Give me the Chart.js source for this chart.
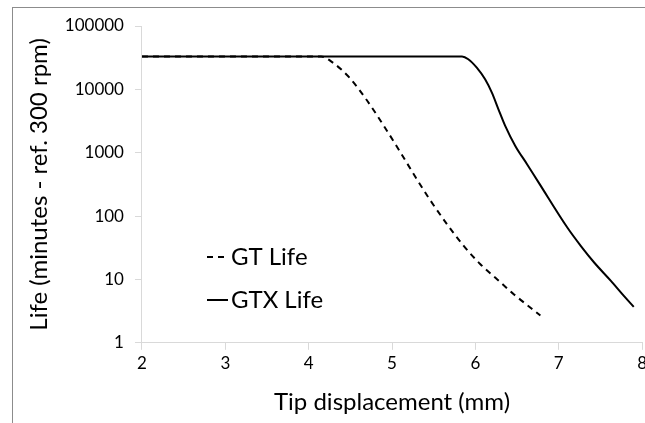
<!DOCTYPE html>
<html>
<head>
<meta charset="utf-8">
<script src="https://cdn.jsdelivr.net/npm/chart.js@4"></script>
<style>
  html, body { margin: 0; padding: 0; background: #fff; overflow: hidden; }
  #wrap { position: relative; width: 651px; height: 423px; }
  #frame { position: absolute; left: 12px; top: 7px; width: 700px; height: 500px;
           border-left: 1px solid #8c8c8c; border-top: 1px solid #8c8c8c; }
  canvas { position: absolute; left: 0; top: 0; }
</style>
</head>
<body>
<div id="wrap">
  <div id="frame"></div>
  <canvas id="chart" width="651" height="423"></canvas>
</div>
<script>
// 데이터
const gtX  = [2, 4.15, 4.29, 4.49, 4.69, 4.89, 5.09, 5.27, 5.45, 5.66, 5.86, 6.06, 6.26, 6.46, 6.78];
const gtY  = [33000, 33000, 26400, 15300, 6980, 2810, 1070, 437, 185, 74.5, 33.9, 17.4, 10.1, 5.86, 2.7];
const gtxX = [2, 5.84, 5.915, 6.017, 6.117, 6.198, 6.277, 6.358, 6.479, 6.62, 6.76, 7.103, 7.264, 7.425, 7.626, 7.787, 7.9];
const gtxY = [33000, 33000, 29900, 22000, 14400, 8870, 4850, 2650, 1280, 659, 337, 65.9, 33.9, 18.5, 9.5, 5.4, 3.7];
const seriesNames = ['GT Life', 'GTX Life'];
const yTicks = [1, 10, 100, 1000, 10000, 100000];
const xTicks = [2, 3, 4, 5, 6, 7, 8];

const FONT = 'Lato, "Open Sans", sans-serif';
const AXIS_GRAY = '#d9d9d9';

function toPoints(xs, ys) {
    return xs.map((x, i) => ({ x: x, y: ys[i] }));
}

// 차트 안쪽 범례
const innerLegend = {
    id: 'innerLegend',
    afterDraw(chart) {
        const ctx = chart.ctx;
        const rows = [
            { y: 257, ds: chart.data.datasets[0] },
            { y: 300, ds: chart.data.datasets[1] }
        ];
        ctx.save();
        rows.forEach(r => {
            ctx.beginPath();
            ctx.strokeStyle = r.ds.borderColor;
            ctx.lineWidth = r.ds.borderWidth;
            ctx.setLineDash(r.ds.borderDash || []);
            ctx.moveTo(207, r.y);
            ctx.lineTo(228, r.y);
            ctx.stroke();
            ctx.setLineDash([]);
            ctx.fillStyle = '#000';
            ctx.font = '24px ' + FONT;
            ctx.textBaseline = 'middle';
            ctx.fillText(r.ds.label, 231, r.y);
        });
        ctx.restore();
    }
};

new Chart(document.getElementById('chart'), {
    type: 'line',
    data: {
        datasets: [{
            label: seriesNames[0],
            data: toPoints(gtX, gtY),
            borderColor: '#000',
            borderWidth: 2,
            borderDash: [6, 5],
            pointRadius: 0,
            cubicInterpolationMode: 'monotone',
            fill: false
        }, {
            label: seriesNames[1],
            data: toPoints(gtxX, gtxY),
            borderColor: '#000',
            borderWidth: 2,
            pointRadius: 0,
            cubicInterpolationMode: 'monotone',
            fill: false
        }]
    },
    options: {
        responsive: false,
        animation: false,
        events: [],
        layout: { padding: { left: 25, top: 26, right: 0, bottom: 6 } },
        plugins: {
            legend: { display: false },
            tooltip: { enabled: false }
        },
        scales: {
            x: {
                type: 'linear',
                min: 2,
                max: 8,
                afterBuildTicks: scale => { scale.ticks = xTicks.map(v => ({ value: v })); },
                ticks: { color: '#000', font: { family: FONT, size: 17 }, padding: 4 },
                grid: { drawOnChartArea: false, drawTicks: true, tickLength: 7, color: AXIS_GRAY },
                border: { color: AXIS_GRAY },
                title: {
                    display: true,
                    text: 'Tip displacement (mm)',
                    color: '#000',
                    font: { family: FONT, size: 24 },
                    padding: { top: 10, bottom: 0 }
                }
            },
            y: {
                type: 'logarithmic',
                min: 1,
                max: 100000,
                afterBuildTicks: scale => { scale.ticks = yTicks.map(v => ({ value: v })); },
                ticks: {
                    color: '#000',
                    font: { family: FONT, size: 17 },
                    padding: 11,
                    callback: v => String(v)
                },
                grid: { drawOnChartArea: false, drawTicks: true, tickLength: 7, color: AXIS_GRAY },
                border: { color: AXIS_GRAY },
                title: {
                    display: true,
                    text: 'Life (minutes - ref. 300 rpm)',
                    color: '#000',
                    font: { family: FONT, size: 24 },
                    padding: { top: 0, bottom: 0 }
                }
            }
        }
    },
    plugins: [innerLegend]
});
</script>
</body>
</html>
